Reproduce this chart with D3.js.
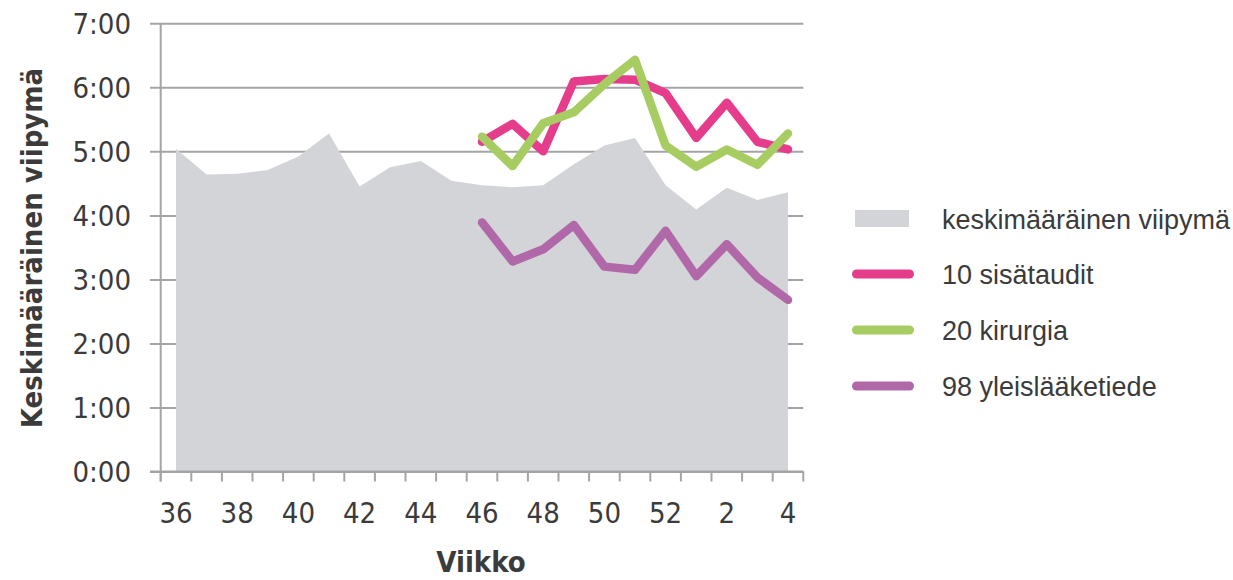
<!DOCTYPE html>
<html>
<head>
<meta charset="utf-8">
<script src="https://cdn.jsdelivr.net/npm/d3@7"></script>
<style>
  html, body { margin: 0; padding: 0; background: #fff; }
  svg { display: block; }
  .cond { font-family: 'DejaVu Sans Condensed', 'DejaVu Sans', sans-serif; font-stretch: condensed; }
  .leg { font-family: 'Liberation Sans', Arial, sans-serif; }
</style>
</head>
<body>
<svg id="chart" width="1233" height="580"></svg>
<script>
// Weeks 36–52 and 1–4
const weeks = [36, 37, 38, 39, 40, 41, 42, 43, 44, 45, 46, 47, 48, 49, 50, 51, 52, 1, 2, 3, 4];
const weekTickLabels = [36, 38, 40, 42, 44, 46, 48, 50, 52, 2, 4];
const hourTicks = [0, 1, 2, 3, 4, 5, 6, 7];

// Average stay (hours), all units
const keskimaarainen = [5.04, 4.64, 4.65, 4.71, 4.92, 5.28, 4.45, 4.75, 4.85, 4.54, 4.47,
                        4.44, 4.47, 4.80, 5.09, 5.21, 4.47, 4.09, 4.43, 4.24, 4.36];
// Units, reported from week 46 onwards
const unitWeeks = [46, 47, 48, 49, 50, 51, 52, 1, 2, 3, 4];
const sisataudit = [5.15, 5.43, 5.00, 6.09, 6.13, 6.12, 5.91, 5.21, 5.76, 5.15, 5.03];
const kirurgia = [5.23, 4.77, 5.44, 5.61, 6.05, 6.43, 5.09, 4.76, 5.03, 4.79, 5.28];
const yleislaaketiede = [3.89, 3.28, 3.47, 3.85, 3.20, 3.15, 3.76, 3.05, 3.55, 3.03, 2.68];

const seriesNames = ["keskimääräinen viipymä", "10 sisätaudit", "20 kirurgia", "98 yleislääketiede"];
const colors = { area: "#d3d4d8", s10: "#e63c8c", s20: "#a7cd62", s98: "#b068a9", grid: "#a4a4a4", text: "#3b3b3b" };

const svg = d3.select("#chart");
const plotLeft = 160.7, plotRight = 803.3, plotTop = 23.3, plotBottom = 471.5;

const x = d3.scaleBand().domain(weeks).range([plotLeft, plotRight]).padding(0);
const cx = w => x(w) + x.bandwidth() / 2;
const y = d3.scaleLinear().domain([0, 7]).range([plotBottom, plotTop]);

const fmtHour = h => h + ":00";

// Horizontal gridlines with hour labels on the left
const yAxis = d3.axisLeft(y)
  .tickValues(hourTicks)
  .tickFormat(fmtHour)
  .tickSize(plotRight - 150)
  .tickPadding(19);
const gy = svg.append("g")
  .attr("class", "cond")
  .attr("transform", `translate(${plotRight},0)`)
  .call(yAxis);
gy.attr("font-family", null).attr("font-size", null);
gy.select(".domain").remove();
gy.selectAll(".tick line").attr("stroke", colors.grid).attr("stroke-width", 2);
gy.selectAll(".tick text")
  .attr("fill", colors.text)
  .attr("font-size", 29)
  .attr("dy", null)
  .attr("y", 10);

// Shaded area: average stay
const area = d3.area()
  .x((d, i) => cx(weeks[i]))
  .y0(plotBottom)
  .y1(d => y(d));
svg.append("path")
  .datum(keskimaarainen)
  .attr("fill", colors.area)
  .attr("d", area);

// Axis lines and week boundary ticks
svg.append("line")
  .attr("x1", 150).attr("x2", plotRight).attr("y1", plotBottom).attr("y2", plotBottom)
  .attr("stroke", colors.grid).attr("stroke-width", 2);
svg.append("line")
  .attr("x1", plotLeft).attr("x2", plotLeft).attr("y1", plotTop).attr("y2", plotBottom + 10)
  .attr("stroke", colors.grid).attr("stroke-width", 2);
const boundaries = weeks.map(w => x(w)).concat([plotRight]);
svg.append("g").selectAll("line")
  .data(boundaries)
  .join("line")
  .attr("x1", d => d).attr("x2", d => d)
  .attr("y1", plotBottom).attr("y2", plotBottom + 10)
  .attr("stroke", colors.grid).attr("stroke-width", 2);

// Week labels under every other week
svg.append("g").attr("class", "cond").selectAll("text")
  .data(weekTickLabels)
  .join("text")
  .attr("x", d => cx(d))
  .attr("y", 523)
  .attr("text-anchor", "middle")
  .attr("font-size", 29)
  .attr("fill", colors.text)
  .text(d => d);

// Unit lines
const line = d3.line()
  .x((d, i) => cx(unitWeeks[i]))
  .y(d => y(d));
const unitSeries = [
  { values: sisataudit, color: colors.s10 },
  { values: kirurgia, color: colors.s20 },
  { values: yleislaaketiede, color: colors.s98 }
];
svg.append("g").selectAll("path")
  .data(unitSeries)
  .join("path")
  .attr("fill", "none")
  .attr("stroke", d => d.color)
  .attr("stroke-width", 8.5)
  .attr("stroke-linecap", "round")
  .attr("stroke-linejoin", "round")
  .attr("d", d => line(d.values));

// Axis titles
svg.append("text")
  .attr("class", "cond")
  .attr("x", 481).attr("y", 572)
  .attr("text-anchor", "middle")
  .attr("font-size", 29).attr("font-weight", "bold")
  .attr("fill", colors.text)
  .text("Viikko");
svg.append("text")
  .attr("class", "cond")
  .attr("transform", "translate(42,248) rotate(-90)")
  .attr("text-anchor", "middle")
  .attr("font-size", 29).attr("font-weight", "bold")
  .attr("fill", colors.text)
  .text("Keskimääräinen viipymä");

// Legend
const legendRows = [218.5, 274, 330, 386];
const legend = svg.append("g").attr("class", "leg");
legend.append("rect")
  .attr("x", 855).attr("y", legendRows[0] - 8.5)
  .attr("width", 54).attr("height", 17)
  .attr("fill", colors.area);
legend.selectAll("line")
  .data(unitSeries)
  .join("line")
  .attr("x1", 856.5).attr("x2", 909.5)
  .attr("y1", (d, i) => legendRows[i + 1]).attr("y2", (d, i) => legendRows[i + 1])
  .attr("stroke", d => d.color)
  .attr("stroke-width", 9)
  .attr("stroke-linecap", "round");
legend.selectAll("text")
  .data(seriesNames)
  .join("text")
  .attr("x", 942)
  .attr("y", (d, i) => legendRows[i] + 10)
  .attr("font-size", 27)
  .attr("fill", colors.text)
  .text(d => d);
</script>
</body>
</html>
